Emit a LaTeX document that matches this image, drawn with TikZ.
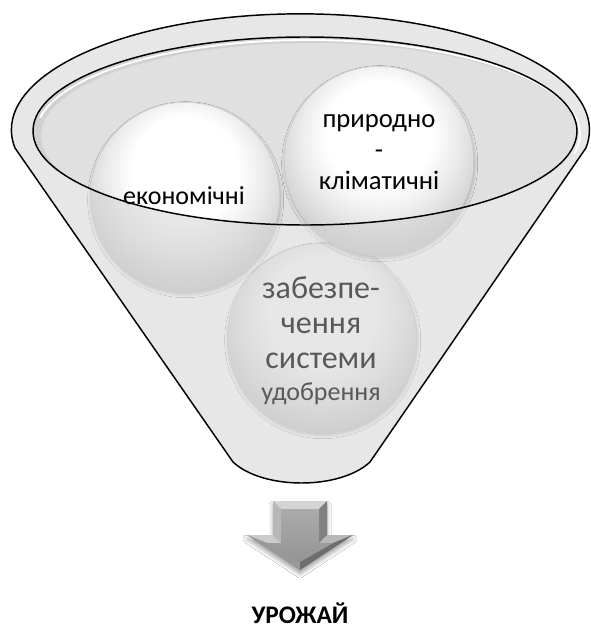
\documentclass[tikz,border=0pt]{standalone}
\usepackage{fontspec}
\setmainfont{Carlito}
\usetikzlibrary{shadows.blur}

% glossy "button" fill for the three factor discs
\pgfdeclareradialshading{button}{\pgfpoint{0bp}{10bp}}{%
  color(0bp)=(white); color(14bp)=(white); color(21bp)=(black!8);
  color(28bp)=(black!18); color(35bp)=(black!28); color(50bp)=(black!28)}

% outline of the funnel: upper half of the rim ellipse, two sides, rounded spout
\newcommand{\funnelshape}{(15,148) arc[start angle=171, end angle=369, x radius=289, y radius=116]
  -- (370,462) .. controls (340,490) and (263,490) .. (233,462) -- cycle}
\newcommand{\mouthshape}{(305,131) ellipse[x radius=272, y radius=94]}

\tikzset{
  disc/.style={circle, minimum size=142pt, inner sep=0pt, shading=button,
    draw=black!20, line width=0.4pt,
    blur shadow={shadow xshift=0.5pt, shadow yshift=-2pt, shadow blur radius=2.5pt, shadow opacity=25}},
  disctext/.style={align=center, text=black, font=\fontsize{19.5}{23.3}\selectfont},
  outline/.style={draw=black, line width=1.1pt, line join=round},
}

\begin{document}
\begin{tikzpicture}[x=0.75pt, y=-0.75pt]
\useasboundingbox (0,0) rectangle (591,628);
\fill[white] (0,0) rectangle (591,628);

% back of the funnel and its mouth
\fill[white] \funnelshape;
\fill[black!18] \mouthshape;
\begin{scope}
  \clip \mouthshape;
  \fill[black!12] (311,136) ellipse[x radius=270, y radius=93];
\end{scope}

% factor discs
\node[disc] (supply) at (322,338) {};
\node[disc] (econ) at (185,197) {};
\node[disc] (nature) at (379,161) {};

% translucent front wall of the funnel
\fill[black!18, fill opacity=0.5, even odd rule] \funnelshape \mouthshape;

% highlight along the upper rim of the mouth
\draw[white, line width=1.4pt] (308,134) ++(190:272 and 94)
  arc[start angle=190, end angle=372, x radius=272, y radius=94];

% outlines
\path[outline] \funnelshape;
\path[outline] \mouthshape;

% labels of the discs
\node[disctext] (econtext) at (184,196) {економічні};
\node[disctext, font=\fontsize{20}{23.3}\selectfont] (naturetext) at (379,152) {природно\\-\\кліматичні};
\node[disctext, text=black!65, font=\fontsize{24}{26.2}\selectfont] (supplytext) at (321,341)
  {забезпе-\\чення\\системи\\[-2pt]{\fontsize{19.5}{24}\selectfont удобрення}};

% bevelled arrow pointing down to the result
\coordinate (a1) at (273,501); \coordinate (a2) at (327,501);
\coordinate (a3) at (327,535); \coordinate (a4) at (353,535);
\coordinate (a5) at (300,570); \coordinate (a6) at (247,535);
\coordinate (a7) at (273,535);
\coordinate (b1) at (281,509); \coordinate (b2) at (319,509);
\coordinate (b3) at (319,543); \coordinate (b4) at (333,543);
\coordinate (b5) at (300,562); \coordinate (b6) at (267,543);
\coordinate (b7) at (281,543);
\fill[black!45, blur shadow={shadow xshift=0pt, shadow yshift=-3pt, shadow blur radius=3pt, shadow opacity=35}]
  (a1) -- (a2) -- (a3) -- (a4) -- (a5) -- (a6) -- (a7) -- cycle;
\fill[black!17] (a1) -- (a2) -- (b2) -- (b1) -- cycle;
\fill[black!28] (a1) -- (b1) -- (b7) -- (a7) -- cycle;
\fill[black!50] (a2) -- (b2) -- (b3) -- (a3) -- cycle;
\fill[black!20] (a7) -- (a6) -- (b6) -- (b7) -- cycle;
\fill[black!28] (a3) -- (a4) -- (b4) -- (b3) -- cycle;
\fill[black!40] (a6) -- (a5) -- (b5) -- (b6) -- cycle;
\fill[black!57] (a4) -- (a5) -- (b5) -- (b4) -- cycle;
\shade[top color=black!33, bottom color=black!42]
  (b1) -- (b2) -- (b3) -- (b4) -- (b5) -- (b6) -- (b7) -- cycle;

\node[font=\fontsize{19}{22}\selectfont\bfseries, anchor=base] (harvest) at (300,623) {УРОЖАЙ};
\end{tikzpicture}
\end{document}
